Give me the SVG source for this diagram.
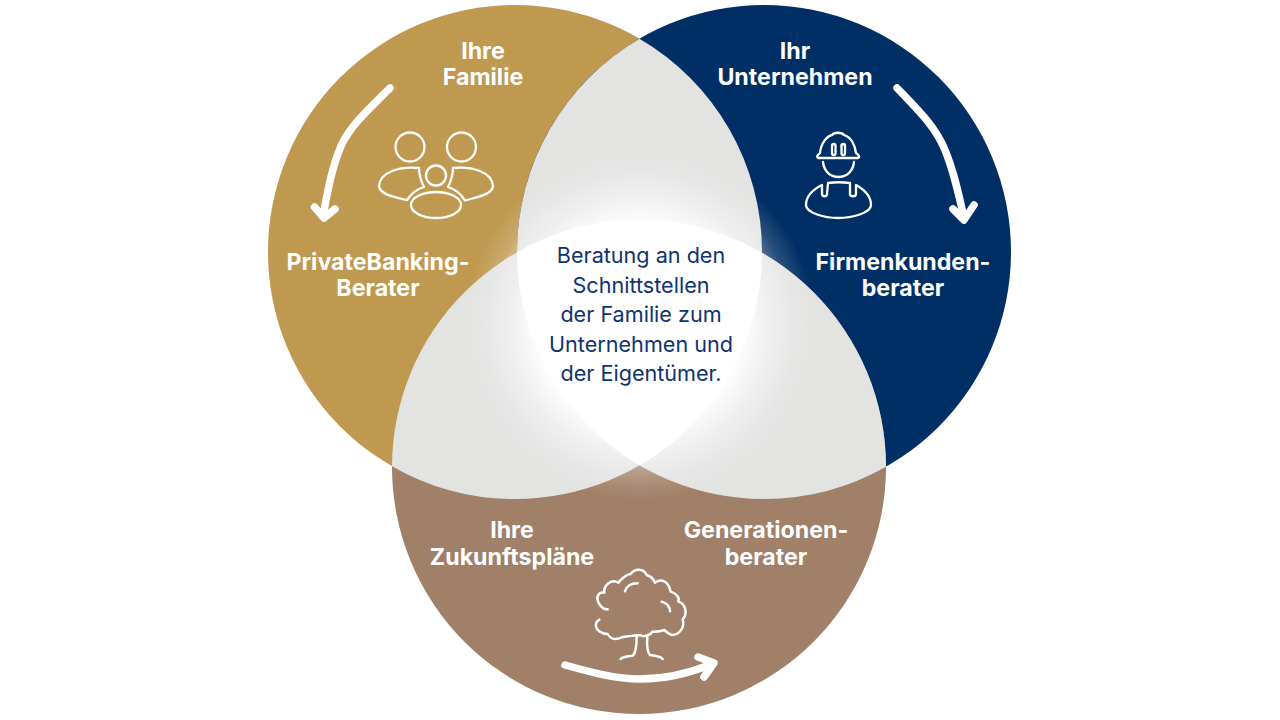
<svg xmlns="http://www.w3.org/2000/svg" width="1280" height="720" viewBox="0 0 1280 720">
<style>
text{font-family:"Inter","Lato","Noto Sans",sans-serif;text-anchor:middle}
.l{fill:#fff;font-size:23.200px;font-weight:700}
.c{fill:#0f3370;font-size:21.600px;font-weight:400}
.i{fill:none;stroke:#fff;stroke-width:2.3;stroke-linecap:round;stroke-linejoin:round}
.t{fill:none;stroke:#fff;stroke-width:7.500;stroke-linecap:round;stroke-linejoin:round}
.a{fill:none;stroke:#fff;stroke-width:7.5;stroke-linecap:round;stroke-linejoin:round}
</style>
<defs>
<clipPath id="cg"><circle cx="515" cy="252" r="247"/></clipPath>
<clipPath id="cn"><circle cx="764" cy="252" r="247"/></clipPath>
<clipPath id="cb"><circle cx="639" cy="467" r="247"/></clipPath>
<clipPath id="cgn" clip-path="url(#cg)"><circle cx="764" cy="252" r="247"/></clipPath>
<clipPath id="cgb" clip-path="url(#cg)"><circle cx="639" cy="467" r="247"/></clipPath>
<clipPath id="cnb" clip-path="url(#cn)"><circle cx="639" cy="467" r="247"/></clipPath>
<clipPath id="ct" clip-path="url(#cgn)"><circle cx="639" cy="467" r="247"/></clipPath>
<radialGradient id="glow" gradientUnits="userSpaceOnUse" cx="640" cy="325" r="175">
<stop offset="0.58" stop-color="#fff" stop-opacity="0.95"/>
<stop offset="0.74" stop-color="#fff" stop-opacity="0.45"/>
<stop offset="0.88" stop-color="#fff" stop-opacity="0.15"/>
<stop offset="1" stop-color="#fff" stop-opacity="0"/>
</radialGradient>
</defs>
<g id="circles">
<circle cx="515" cy="252" r="247" fill="#bf994f"/>
<circle cx="764" cy="252" r="247" fill="#002f65"/>
<circle cx="639" cy="467" r="247" fill="#a08068"/>
</g>
<g id="overlaps">
<rect clip-path="url(#cgn)" x="260" y="0" width="760" height="720" fill="#e3e3e2"/>
<rect clip-path="url(#cgb)" x="260" y="0" width="760" height="720" fill="#e3e3e2"/>
<rect clip-path="url(#cnb)" x="260" y="0" width="760" height="720" fill="#e3e3e2"/>
<circle cx="640" cy="325" r="175" fill="url(#glow)"/>
<rect clip-path="url(#ct)" x="260" y="0" width="760" height="720" fill="#fff"/>
</g>
<g id="node-familie">
<text class="l" x="483" y="59">Ihre</text>
<text class="l" x="483" y="85">Familie</text>
<path class="a" d="M390,88C368,110 350,126 341,146C331,170 327,195 323,216"/>
<path class="a" d="M314.500,207L324,218L335,209"/>
<circle class="i" cx="410" cy="147" r="14.500"/>
<circle class="i" cx="461.500" cy="147" r="14.500"/>
<circle class="i" cx="436" cy="175.500" r="10"/>
<ellipse class="i" cx="436" cy="205" rx="25" ry="13"/>
<path class="i" d="M419,168C400,166 380,172 379,186C380,195 395,197 407,200C411,194 417,189 424,187C421,181 419,175 419,168Z"/>
<path class="i" d="M453,168C472,166 492,172 493,186C492,195 477,197 465,200.500C461,194 455,189 448,187C451,181 453,175 453,168Z"/>
<text class="l" x="378" y="270">PrivateBanking-</text>
<text class="l" x="378" y="296">Berater</text>
</g>
<g id="node-unternehmen">
<text class="l" x="795" y="59">Ihr</text>
<text class="l" x="795" y="85">Unternehmen</text>
<path class="a" d="M897,88C918,110 935,126 945,150C954,172 959,195 964,218"/>
<path class="a" d="M953,209L964,220L974,205"/>
<path class="i" d="M818,158C816,156 818,155 820,153C821,143 827,136 832,135C834,132 842,132 844,135C851,137 855,145 856,153C859,155 860,157 858,158Z"/>
<rect class="i" x="832" y="144" width="3.500" height="11" rx="1.700"/>
<rect class="i" x="841.500" y="144" width="3.500" height="11" rx="1.700"/>
<path class="i" d="M823,162C824,171 830,177 838.500,177C847,177 853,171 854,162"/>
<path class="i" d="M822,185C812,190 806,196 806,205C806,213 825,218 838,218C852,218 871,213 871,205C871,196 865,190 856,185L856,194C856,197 850,197 850,194L850,183C842,182 835,182 828,183L827,194C827,197 822,197 822,194Z"/>
<text class="l" x="903" y="270">Firmenkunden-</text>
<text class="l" x="903" y="296">berater</text>
</g>
<g id="node-zukunft">
<text class="l" x="512" y="538">Ihre</text>
<text class="l" x="512" y="565">Zukunftspläne</text>
<path class="a" d="M565,665C590,672 615,679 640,679C665,679 690,673 712,664"/>
<path class="a" d="M698,657L714,663L704,677"/>
<g transform="translate(540,550) scale(.3333)">
<path class="t" d="M203,178C185,180 165,150 175,135C180,125 190,128 193,128C190,105 215,85 235,98C245,85 262,72 272,72C285,55 310,55 320,75C330,78 340,85 345,98C360,85 385,90 392,125C410,130 420,145 415,155C435,160 445,190 428,208C435,230 420,255 395,255C385,252 378,245 373,240C360,245 350,245 337,245C330,258 310,262 300,255C285,255 260,260 245,262C225,272 210,265 203,252C185,252 165,240 168,222M168,222C170,215 172,212 178,209"/>
<path class="t" d="M290,258C290,280 288,305 280,316C270,320 250,318 242,327"/>
<path class="t" d="M322,262C320,285 322,305 330,315C345,318 360,318 368,327"/>
<path class="t" d="M255,124C260,108 275,100 293,100"/>
<path class="t" d="M365,155C380,158 390,170 390,184"/>
</g>
<text class="l" x="766" y="538">Generationen-</text>
<text class="l" x="766" y="565">berater</text>
</g>
<g id="node-center">
<text class="c" x="641" y="263">Beratung an den</text>
<text class="c" x="641" y="293">Schnittstellen</text>
<text class="c" x="641" y="322">der Familie zum</text>
<text class="c" x="641" y="352">Unternehmen und</text>
<text class="c" x="641" y="381">der Eigentümer.</text>
</g>
</svg>
